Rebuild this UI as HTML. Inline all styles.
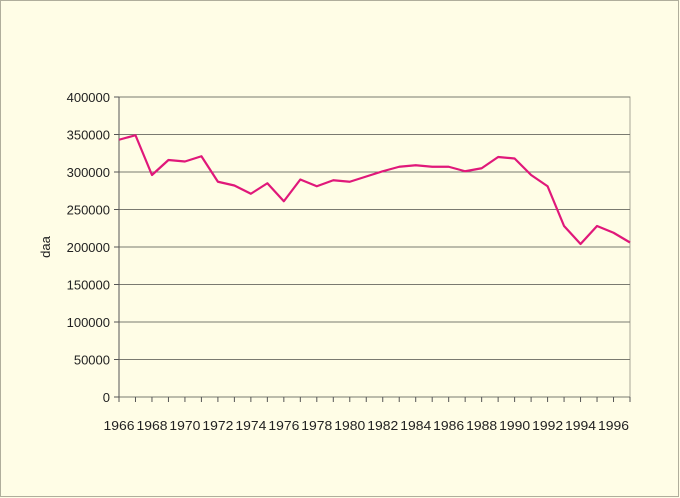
<!DOCTYPE html>
<html><head><meta charset="utf-8"><style>
html,body{margin:0;padding:0;background:#fffde6;}
svg{display:block;font-family:"Liberation Sans",sans-serif;}
</style></head><body>
<svg id="chart" width="680" height="498">
<rect x="0.5" y="0.5" width="678" height="496" fill="#fffde6" stroke="#b0ae9c"/>
<g id="grid"></g><g id="axes"></g><g id="series"></g>
<text x="50" y="247" font-size="13" fill="#222" text-anchor="middle" transform="rotate(-90 50 247)">daa</text>
</svg>
<script>
const years=[1966,1967,1968,1969,1970,1971,1972,1973,1974,1975,1976,1977,1978,1979,1980,1981,1982,1983,1984,1985,1986,1987,1988,1989,1990,1991,1992,1993,1994,1995,1996,1997];
const values=[343000,349000,296000,316000,314000,321000,287000,282000,271000,285000,261000,290000,281000,289000,287000,294000,301000,307000,309000,307000,307000,301000,305000,320000,318000,296000,281000,228000,204000,228000,219000,206000];
const yTicks=[0,50000,100000,150000,200000,250000,300000,350000,400000];
const xLabels=[1966,1968,1970,1972,1974,1976,1978,1980,1982,1984,1986,1988,1990,1992,1994,1996];
const X0=119,X1=630,Y0=397,Y1=97;
const xs=y=>X0+(y-1966)*(X1-X0)/31;
const ys=v=>Y0-v*(Y0-Y1)/400000;
const NS="http://www.w3.org/2000/svg";
function mk(t,a,p){const e=document.createElementNS(NS,t);for(const k in a)e.setAttribute(k,a[k]);p.appendChild(e);return e;}
const g=document.getElementById('grid'),ax=document.getElementById('axes'),s=document.getElementById('series');
mk('rect',{x:X0,y:Y1,width:X1-X0,height:Y0-Y1,fill:'none',stroke:'#a8a698'},g);
yTicks.forEach(v=>{
 const l=mk('line',{x1:X0,x2:X1,y1:ys(v),y2:ys(v),stroke:'#7a7a70','stroke-width':1},g);
 
 
 mk('line',{x1:X0-5,x2:X0,y1:ys(v),y2:ys(v),stroke:'#555'},ax);
 const t=mk('text',{x:X0-9,y:ys(v)+5,'font-size':13,fill:'#222','text-anchor':'end'},ax);
 t.textContent=v;
 
 
});
mk('line',{x1:X0,x2:X0,y1:Y1,y2:Y0+5,stroke:'#555'},ax);
years.forEach(y=>{mk('line',{x1:xs(y),x2:xs(y),y1:Y0,y2:Y0+5,stroke:'#555'},ax);});
xLabels.forEach(y=>{
 const t=mk('text',{x:xs(y),y:430,'font-size':13,fill:'#222','text-anchor':'middle','textLength':31,'lengthAdjust':'spacingAndGlyphs'},ax);
 t.textContent=y;
 
 
});
const p=mk('polyline',{points:years.map((y,i)=>xs(y)+','+ys(values[i])).join(' '),fill:'none',stroke:'#e0187a','stroke-width':2.2,'stroke-linejoin':'round'},s);


</script>
</body></html>
